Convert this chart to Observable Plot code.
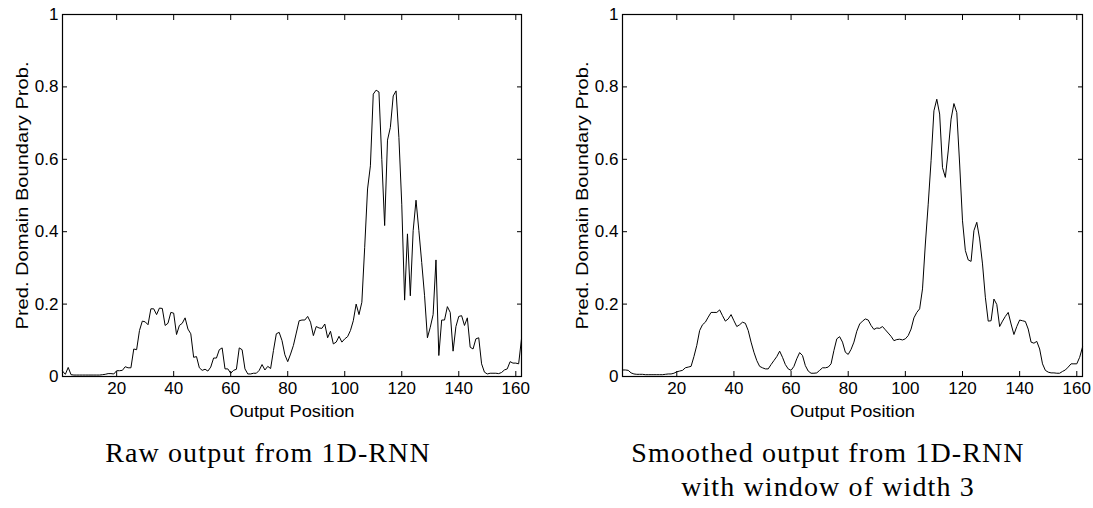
<!DOCTYPE html>
<html><head><meta charset="utf-8">
<script src="https://cdn.jsdelivr.net/npm/d3@7"></script>
<script src="https://cdn.jsdelivr.net/npm/@observablehq/plot@0.6"></script>
<style>
body{margin:0;background:#fff;}
#wrap{position:relative;width:1093px;height:508px;overflow:hidden;background:#fff;}
.panel{position:absolute;top:0;}
.cap{position:absolute;width:440px;font-family:"Liberation Serif","DejaVu Serif",serif;font-size:28px;line-height:34px;letter-spacing:0.04em;text-align:center;color:#000;white-space:nowrap;}
</style></head><body><div id="wrap"></div>
<script>
const positions = d3.range(1, 163);
const rawValues = [
0.015,0.006,0.025,0.005,0.004,0.004,0.004,0.004,0.004,0.004,
0.004,0.004,0.004,0.004,0.005,0.006,0.008,0.008,0.007,0.016,
0.016,0.017,0.027,0.024,0.024,0.076,0.074,0.127,0.153,0.151,
0.143,0.187,0.187,0.171,0.189,0.188,0.141,0.147,0.177,0.175,
0.116,0.141,0.147,0.162,0.131,0.118,0.053,0.055,0.024,0.017,
0.020,0.015,0.026,0.051,0.051,0.074,0.079,0.021,0.021,0.009,
0.017,0.020,0.079,0.074,0.021,0.007,0.007,0.009,0.009,0.017,
0.033,0.018,0.028,0.022,0.072,0.118,0.122,0.099,0.060,0.041,
0.062,0.086,0.120,0.154,0.156,0.156,0.166,0.150,0.113,0.138,
0.134,0.133,0.145,0.107,0.125,0.090,0.095,0.111,0.095,0.104,
0.110,0.127,0.154,0.200,0.171,0.205,0.357,0.518,0.582,0.780,
0.791,0.786,0.600,0.417,0.653,0.688,0.775,0.789,0.660,0.476,
0.211,0.394,0.223,0.403,0.487,0.403,0.315,0.223,0.107,0.136,
0.171,0.322,0.058,0.156,0.156,0.193,0.177,0.070,0.138,0.166,
0.168,0.141,0.162,0.081,0.076,0.104,0.107,0.035,0.012,0.007,
0.009,0.009,0.009,0.008,0.011,0.018,0.021,0.041,0.037,0.037,
0.035,0.104];
const smoothValues = [
0.018,0.018,0.017,0.010,0.007,0.006,0.006,0.006,0.005,0.005,
0.005,0.005,0.005,0.005,0.005,0.006,0.007,0.007,0.009,0.013,
0.015,0.017,0.024,0.026,0.028,0.055,0.086,0.127,0.143,0.150,
0.164,0.177,0.177,0.177,0.184,0.168,0.153,0.159,0.171,0.154,
0.138,0.143,0.150,0.147,0.127,0.095,0.067,0.044,0.028,0.024,
0.021,0.021,0.033,0.044,0.055,0.070,0.053,0.033,0.021,0.017,
0.028,0.049,0.066,0.058,0.030,0.015,0.009,0.009,0.010,0.017,
0.024,0.024,0.026,0.035,0.072,0.104,0.110,0.095,0.067,0.061,
0.075,0.095,0.125,0.145,0.153,0.159,0.156,0.141,0.130,0.134,
0.133,0.138,0.129,0.120,0.111,0.099,0.102,0.103,0.101,0.104,
0.113,0.131,0.162,0.177,0.187,0.242,0.366,0.476,0.596,0.734,
0.766,0.725,0.577,0.550,0.623,0.711,0.754,0.729,0.587,0.430,
0.348,0.322,0.318,0.403,0.426,0.380,0.311,0.219,0.153,0.154,
0.214,0.199,0.138,0.153,0.166,0.177,0.145,0.116,0.138,0.156,
0.154,0.152,0.131,0.095,0.092,0.097,0.076,0.035,0.017,0.012,
0.010,0.010,0.009,0.009,0.014,0.018,0.026,0.035,0.035,0.035,
0.053,0.081];
const xTicks = [20, 40, 60, 80, 100, 120, 140, 160];
const yTicks = [0, 0.2, 0.4, 0.6, 0.8, 1];
const xLabel = "Output Position";
const yLabel = "Pred. Domain Boundary Prob.";
const captionLeft = ["Raw output from 1D-RNN"];
const captionRight = ["Smoothed output from 1D-RNN", "with window of width 3"];

function panel(values, cfg) {
  const data = positions.map((p, i) => ({p, v: values[i]}));
  const svg = Plot.plot({
    width: cfg.width, height: 420,
    marginTop: 14, marginBottom: 44, marginLeft: cfg.ml, marginRight: cfg.mr,
    style: {fontFamily: '"Liberation Sans", Arial, Helvetica, sans-serif', fontSize: "17px", color: "#000", background: "transparent", overflow: "visible"},
    x: {domain: [1, 162]},
    y: {domain: [0, 1]},
    marks: [
      Plot.axisX(xTicks, {anchor: "bottom", tickSize: -5, tickPadding: 10, label: xLabel, labelAnchor: "center", labelArrow: "none", labelOffset: 40}),
      Plot.axisX(xTicks, {anchor: "top", tickSize: -5, tickFormat: () => "", label: null}),
      Plot.axisY(yTicks, {anchor: "left", tickSize: -5, tickPadding: 9, tickFormat: d => String(d), label: yLabel, labelAnchor: "center", labelArrow: "none", labelOffset: 47}),
      Plot.axisY(yTicks, {anchor: "right", tickSize: -5, tickFormat: () => "", label: null}),
      Plot.line(data, {x: "p", y: "v", stroke: "#000", strokeWidth: 1}),
      Plot.frame({stroke: "#000", strokeWidth: 1.2})
    ]
  });
  svg.classList.add("panel");
  svg.style.left = cfg.left + "px";
  d3.select(svg).selectAll('g[aria-label="x-axis label"] text').attr("textLength", 125).attr("lengthAdjust", "spacingAndGlyphs");
  d3.select(svg).selectAll('g[aria-label="y-axis label"] text').attr("textLength", 268).attr("lengthAdjust", "spacingAndGlyphs");
  return svg;
}

const wrap = document.getElementById("wrap");
wrap.appendChild(panel(rawValues, {left: 0, width: 546, ml: 62, mr: 25}));
wrap.appendChild(panel(smoothValues, {left: 546, width: 547, ml: 76, mr: 11}));

function caption(lines, center) {
  const div = document.createElement("div");
  div.className = "cap";
  div.style.left = (center - 220) + "px";
  div.style.top = "436px";
  div.innerHTML = lines.map(l => `<div>${l}</div>`).join("");
  wrap.appendChild(div);
}
caption(captionLeft, 268);
caption(captionRight, 828);
</script>
</body></html>
